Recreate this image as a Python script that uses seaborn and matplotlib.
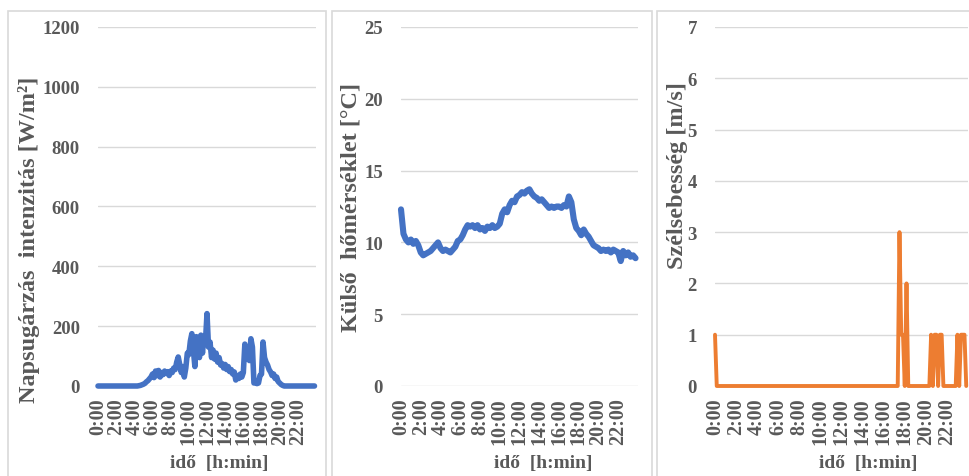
import numpy as np
import pandas as pd
import matplotlib
matplotlib.use("Agg")
import matplotlib.pyplot as plt
from matplotlib.patches import Rectangle
import seaborn as sns

# --- data (one row per hour) ---
# solar irradiance, 10 min steps [W/m2]
solar = [
    0, 0, 0, 0, 0, 0,
    0, 0, 0, 0, 0, 0,
    0, 0, 0, 0, 0, 0,
    0, 0, 0, 0, 0, 0,
    0, 0, 0, 1, 2, 4,
    6, 9, 14, 18, 24, 30,
    40, 28, 50, 35, 52, 30,
    45, 38, 50, 42, 48, 35,
    50, 45, 60, 55, 80, 97,
    70, 45, 65, 30, 60, 110,
    105, 150, 175, 120, 65, 165,
    160, 95, 170, 110, 165, 150,
    242, 130, 147, 95, 120, 90,
    110, 80, 95, 70, 75, 60,
    72, 55, 65, 48, 55, 40,
    47, 20, 35, 25, 40, 30,
    45, 140, 90, 120, 85, 158,
    130, 10, 15, 8, 10, 35,
    40, 147, 95, 80, 70, 55,
    47, 35, 40, 25, 30, 15,
    10, 5, 2, 0, 0, 0,
    0, 0, 0, 0, 0, 0,
    0, 0, 0, 0, 0, 0,
    0, 0, 0, 0, 0, 0,
]

# outdoor temperature, 15 min steps [degC]
temperature = [
    12.3, 10.6, 10.2, 10.0,
    10.2, 9.9, 10.1, 9.8,
    9.3, 9.1, 9.2, 9.3,
    9.4, 9.6, 9.8, 10.0,
    9.6, 9.4, 9.5, 9.4,
    9.3, 9.5, 9.7, 10.1,
    10.2, 10.5, 10.9, 11.2,
    11.1, 11.2, 11.0, 11.2,
    10.9, 11.0, 10.8, 11.1,
    11.0, 11.2, 11.0, 11.1,
    11.3, 12.0, 12.3, 12.1,
    12.6, 12.9, 12.8, 13.2,
    13.3, 13.5, 13.4, 13.6,
    13.7, 13.4, 13.2, 13.1,
    12.9, 13.0, 12.8, 12.6,
    12.4, 12.5, 12.4, 12.5,
    12.5, 12.4, 12.6, 12.5,
    13.2, 12.8, 11.6, 11.0,
    10.8, 10.5, 10.9, 10.6,
    10.4, 10.1, 9.8, 9.7,
    9.6, 9.4, 9.5, 9.4,
    9.5, 9.3, 9.5, 9.4,
    9.3, 8.7, 9.4, 9.1,
    9.3, 9.0, 9.1, 8.9,
]

# wind speed, 10 min steps [m/s]
wind = [
    1, 0, 0, 0, 0, 0,
    0, 0, 0, 0, 0, 0,
    0, 0, 0, 0, 0, 0,
    0, 0, 0, 0, 0, 0,
    0, 0, 0, 0, 0, 0,
    0, 0, 0, 0, 0, 0,
    0, 0, 0, 0, 0, 0,
    0, 0, 0, 0, 0, 0,
    0, 0, 0, 0, 0, 0,
    0, 0, 0, 0, 0, 0,
    0, 0, 0, 0, 0, 0,
    0, 0, 0, 0, 0, 0,
    0, 0, 0, 0, 0, 0,
    0, 0, 0, 0, 0, 0,
    0, 0, 0, 0, 0, 0,
    0, 0, 0, 0, 0, 0,
    0, 0, 0, 0, 0, 0,
    0, 0, 0, 3, 1, 1,
    0, 2, 0, 0, 0, 0,
    0, 0, 0, 0, 0, 0,
    0, 0, 0, 1, 0, 1,
    1, 0, 1, 1, 0, 0,
    0, 0, 0, 0, 0, 0,
    1, 0, 1, 1, 1, 0,
]

tick_hours = list(range(0, 24, 2))
tick_labels = [f"{h}:00" for h in tick_hours]

df_solar = pd.DataFrame({"hour": np.arange(len(solar)) / 6, "value": solar})
df_temp = pd.DataFrame({"hour": np.arange(len(temperature)) / 4, "value": temperature})
df_wind = pd.DataFrame({"hour": np.arange(len(wind)) / 6, "value": wind})

sns.set_theme(style="white")
plt.rcParams["font.family"] = ["Liberation Serif", "DejaVu Serif"]
plt.rcParams["font.weight"] = "bold"

TXT = "#595959"
GRID = "#d9d9d9"
W, H = 969, 477

fig = plt.figure(figsize=(W / 100, H / 100), dpi=100)


def px_axes(left, right, top=28, bottom=387):
    return fig.add_axes([left / W, (H - bottom) / H, (right - left) / W, (bottom - top) / H])


# panel frames
for l, r in [(8, 326), (332, 652), (657, 990)]:
    fig.patches.append(Rectangle((l / W, -0.02), (r - l) / W, 1 - 12 / H + 0.02,
                                 transform=fig.transFigure, fill=False,
                                 edgecolor=GRID, linewidth=1.2))

panels = [
    dict(df=df_solar, color="#4472C4", lw=4.0, left=98, right=316,
         ylim=1200, ystep=200, ylabel="Napsugárzás  intenzitás [W/m²]",
         ylab_xy=(-0.315, 0.41), xlab_x=0.555),
    dict(df=df_temp, color="#4472C4", lw=4.4, left=401, right=638,
         ylim=25, ystep=5, ylabel="Külső  hőmérséklet [°C]",
         ylab_xy=(-0.21, 0.50), xlab_x=0.60),
    dict(df=df_wind, color="#ED7D31", lw=2.8, left=715, right=968,
         ylim=7, ystep=1, ylabel="Szélsebesség [m/s]",
         ylab_xy=(-0.148, 0.59), xlab_x=0.605),
]

for p in panels:
    ax = px_axes(p["left"], p["right"])
    sns.lineplot(data=p["df"], x="hour", y="value", ax=ax, color=p["color"],
                 linewidth=p["lw"], clip_on=False)
    ax.set_xlim(0, 24)
    ax.set_ylim(0, p["ylim"])
    ax.set_yticks(np.arange(0, p["ylim"] + p["ystep"] / 2, p["ystep"]))
    ax.set_xticks(tick_hours)
    ax.set_xticklabels(tick_labels, rotation=90)
    ax.yaxis.grid(True, color=GRID, linewidth=1)
    ax.set_axisbelow(True)
    for s in ax.spines.values():
        s.set_visible(False)
    ax.tick_params(axis="y", length=0, pad=13, labelsize=13.5, labelcolor=TXT)
    ax.tick_params(axis="x", length=0, pad=8, labelsize=14.5, labelcolor=TXT)
    for t in ax.get_xticklabels() + ax.get_yticklabels():
        t.set_fontweight("bold")
    ax.set_ylabel(p["ylabel"], fontsize=17.5, fontweight="bold", color=TXT, va="center")
    ax.yaxis.set_label_coords(*p["ylab_xy"])
    ax.set_xlabel("idő  [h:min]", fontsize=14, fontweight="bold", color=TXT, va="center")
    ax.xaxis.set_label_coords(p["xlab_x"], -0.212)

fig.savefig("out.png", dpi=100)
